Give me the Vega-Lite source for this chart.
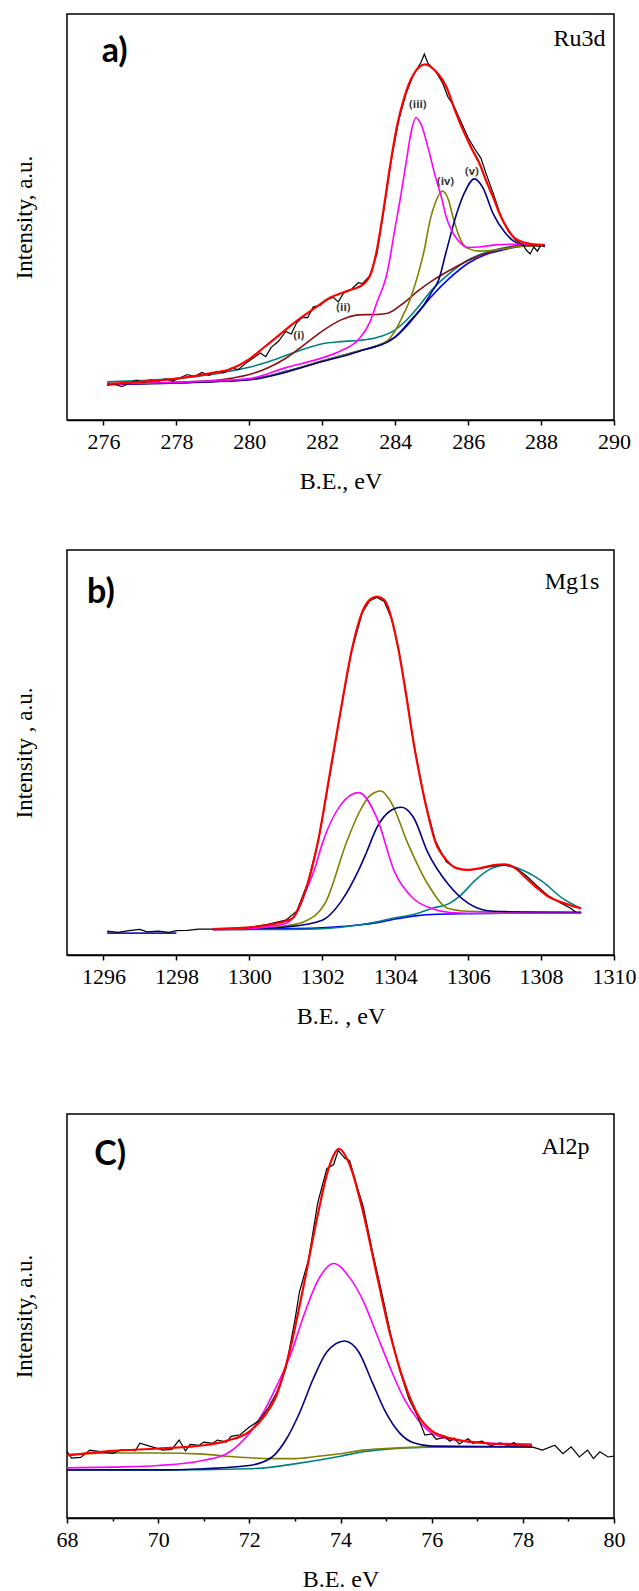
{
"$schema": "https://vega.github.io/schema/vega-lite/v6.json",
"padding": {"left": 12, "top": 13, "right": 0, "bottom": 0},
"background": "white",
"spacing": 55,
"vconcat": [
{
"width": 547, "height": 406,
"layer": [
{"data": {"name": "a"}, "transform": [{"filter": "datum.s !== 'Raw' && datum.s !== 'Fit'"}],
 "mark": {"type": "line", "strokeWidth": 1.6, "clip": true, "interpolate": "monotone"},
 "encoding": {
  "x": {"field": "x", "type": "quantitative", "scale": {"domain": [275, 290], "nice": false, "zero": false},
   "axis": {"values": [276,277,278,279,280,281,282,283,284,285,286,287,288,289,290], "format": "d",
    "labelExpr": "datum.value % 2 === 0 ? datum.label : ''",
    "tickSize": {"condition": {"test": "datum.value % 2 === 0", "value": 5}, "value": 3},
    "labelFontSize": 22, "labelPadding": 6, "labelOverlap": false, "labelFlush": false,
    "title": "B.E., eV", "titleFontSize": 24, "titlePadding": 17, "domainWidth": 1.5, "tickWidth": 1.5}},
  "y": {"field": "y", "type": "quantitative", "scale": {"domain": [0, 100], "nice": false},
   "axis": {"title": "Intensity, a.u.", "ticks": false, "labels": false, "domain": false, "titleFontSize": 23, "titlePadding": 31}},
  "color": {"field": "s", "type": "nominal", "legend": null,
   "scale": {"domain": ["bg","bg0","teal","brown","olive","navy","magenta"], "range": ["#0000ff","#2020c0","#008080","#8b1010","#808000","#000080","#ff00ff"]}}
 }},
{"data": {"name": "a"}, "transform": [{"filter": "datum.s === 'Raw'"}],
 "mark": {"type": "line", "color": "black", "strokeWidth": 1.2, "clip": true},
 "encoding": {"x": {"field": "x", "type": "quantitative"}, "y": {"field": "y", "type": "quantitative"}}},
{"data": {"name": "a"}, "transform": [{"filter": "datum.s === 'Fit'"}],
 "mark": {"type": "line", "color": "#ff0000", "strokeWidth": 2.2, "clip": true, "interpolate": "monotone"},
 "encoding": {"x": {"field": "x", "type": "quantitative"}, "y": {"field": "y", "type": "quantitative"}}},
{"data": {"name": "labels"}, "transform": [{"filter": "datum.p === 'a' && datum.k === 'big'"}],
 "mark": {"type": "text", "font": "Lato", "fontWeight": "bold", "fontSize": 34, "align": "left", "baseline": "middle", "color": "black"},
 "encoding": {"x": {"field": "x", "type": "quantitative"}, "y": {"field": "y", "type": "quantitative"}, "text": {"field": "t"}}},
{"data": {"name": "labels"}, "transform": [{"filter": "datum.p === 'a' && datum.k === 'el'"}],
 "mark": {"type": "text", "font": "Liberation Serif", "fontSize": 24, "align": "right", "baseline": "middle", "color": "black"},
 "encoding": {"x": {"field": "x", "type": "quantitative"}, "y": {"field": "y", "type": "quantitative"}, "text": {"field": "t"}}},
{"data": {"name": "labels"}, "transform": [{"filter": "datum.p === 'a' && datum.k === 'pk'"}],
 "mark": {"type": "text", "font": "Open Sans", "fontWeight": "bold", "fontSize": 11, "align": "center", "baseline": "middle", "color": "#333333"},
 "encoding": {"x": {"field": "x", "type": "quantitative"}, "y": {"field": "y", "type": "quantitative"}, "text": {"field": "t"}}}
]
},
{
"width": 547, "height": 405,
"layer": [
{"data": {"name": "b"}, "transform": [{"filter": "datum.s !== 'Raw' && datum.s !== 'Fit'"}],
 "mark": {"type": "line", "strokeWidth": 1.6, "clip": true, "interpolate": "monotone"},
 "encoding": {
  "x": {"field": "x", "type": "quantitative", "scale": {"domain": [1295, 1310], "nice": false, "zero": false},
   "axis": {"values": [1296,1297,1298,1299,1300,1301,1302,1303,1304,1305,1306,1307,1308,1309,1310], "format": "d",
    "labelExpr": "datum.value % 2 === 0 ? datum.label : ''",
    "tickSize": {"condition": {"test": "datum.value % 2 === 0", "value": 5}, "value": 3},
    "labelFontSize": 22, "labelPadding": 6, "labelOverlap": false, "labelFlush": false,
    "title": "B.E. , eV", "titleFontSize": 24, "titlePadding": 17, "domainWidth": 1.5, "tickWidth": 1.5}},
  "y": {"field": "y", "type": "quantitative", "scale": {"domain": [0, 100], "nice": false},
   "axis": {"title": "Intensity , a.u.", "ticks": false, "labels": false, "domain": false, "titleFontSize": 23, "titlePadding": 31}},
  "color": {"field": "s", "type": "nominal", "legend": null,
   "scale": {"domain": ["bg","bg0","teal","brown","olive","navy","magenta"], "range": ["#0000ff","#2020c0","#008080","#8b1010","#808000","#000080","#ff00ff"]}}
 }},
{"data": {"name": "b"}, "transform": [{"filter": "datum.s === 'Raw'"}],
 "mark": {"type": "line", "color": "black", "strokeWidth": 1.2, "clip": true},
 "encoding": {"x": {"field": "x", "type": "quantitative"}, "y": {"field": "y", "type": "quantitative"}}},
{"data": {"name": "b"}, "transform": [{"filter": "datum.s === 'Fit'"}],
 "mark": {"type": "line", "color": "#ff0000", "strokeWidth": 2.2, "clip": true, "interpolate": "monotone"},
 "encoding": {"x": {"field": "x", "type": "quantitative"}, "y": {"field": "y", "type": "quantitative"}}},
{"data": {"name": "labels"}, "transform": [{"filter": "datum.p === 'b' && datum.k === 'big'"}],
 "mark": {"type": "text", "font": "Lato", "fontWeight": "bold", "fontSize": 34, "align": "left", "baseline": "middle", "color": "black"},
 "encoding": {"x": {"field": "x", "type": "quantitative"}, "y": {"field": "y", "type": "quantitative"}, "text": {"field": "t"}}},
{"data": {"name": "labels"}, "transform": [{"filter": "datum.p === 'b' && datum.k === 'el'"}],
 "mark": {"type": "text", "font": "Liberation Serif", "fontSize": 24, "align": "right", "baseline": "middle", "color": "black"},
 "encoding": {"x": {"field": "x", "type": "quantitative"}, "y": {"field": "y", "type": "quantitative"}, "text": {"field": "t"}}}
]
},
{
"width": 547, "height": 404,
"title": {"text": " ", "fontSize": 10, "offset": 19},
"layer": [
{"data": {"name": "c"}, "transform": [{"filter": "datum.s !== 'Raw' && datum.s !== 'Fit'"}],
 "mark": {"type": "line", "strokeWidth": 1.6, "clip": true, "interpolate": "monotone"},
 "encoding": {
  "x": {"field": "x", "type": "quantitative", "scale": {"domain": [68, 80], "nice": false, "zero": false},
   "axis": {"values": [68,69,70,71,72,73,74,75,76,77,78,79,80], "format": "d",
    "labelExpr": "datum.value % 2 === 0 ? datum.label : ''",
    "tickSize": {"condition": {"test": "datum.value % 2 === 0", "value": 5}, "value": 3},
    "labelFontSize": 22, "labelPadding": 6, "labelOverlap": false, "labelFlush": false,
    "title": "B.E. eV", "titleFontSize": 24, "titlePadding": 17, "domainWidth": 1.5, "tickWidth": 1.5}},
  "y": {"field": "y", "type": "quantitative", "scale": {"domain": [0, 100], "nice": false},
   "axis": {"title": "Intensity, a.u.", "ticks": false, "labels": false, "domain": false, "titleFontSize": 23, "titlePadding": 31}},
  "color": {"field": "s", "type": "nominal", "legend": null,
   "scale": {"domain": ["bg","bg0","teal","brown","olive","navy","magenta"], "range": ["#0000ff","#2020c0","#008080","#8b1010","#808000","#000080","#ff00ff"]}}
 }},
{"data": {"name": "c"}, "transform": [{"filter": "datum.s === 'Raw'"}],
 "mark": {"type": "line", "color": "black", "strokeWidth": 1.2, "clip": true},
 "encoding": {"x": {"field": "x", "type": "quantitative"}, "y": {"field": "y", "type": "quantitative"}}},
{"data": {"name": "c"}, "transform": [{"filter": "datum.s === 'Fit'"}],
 "mark": {"type": "line", "color": "#ff0000", "strokeWidth": 2.2, "clip": true, "interpolate": "monotone"},
 "encoding": {"x": {"field": "x", "type": "quantitative"}, "y": {"field": "y", "type": "quantitative"}}},
{"data": {"name": "labels"}, "transform": [{"filter": "datum.p === 'c' && datum.k === 'big'"}],
 "mark": {"type": "text", "font": "Lato", "fontWeight": "bold", "fontSize": 34, "align": "left", "baseline": "middle", "color": "black"},
 "encoding": {"x": {"field": "x", "type": "quantitative"}, "y": {"field": "y", "type": "quantitative"}, "text": {"field": "t"}}},
{"data": {"name": "labels"}, "transform": [{"filter": "datum.p === 'c' && datum.k === 'el'"}],
 "mark": {"type": "text", "font": "Liberation Serif", "fontSize": 24, "align": "right", "baseline": "middle", "color": "black"},
 "encoding": {"x": {"field": "x", "type": "quantitative"}, "y": {"field": "y", "type": "quantitative"}, "text": {"field": "t"}}}
]
}
],
"datasets": {
"labels": [
{"p":"a","k":"big","t":"a)","x":275.95,"y":90.6},
{"p":"a","k":"el","t":"Ru3d","x":289.77,"y":93.8},
{"p":"a","k":"pk","t":"(i)","x":281.36,"y":20.7},
{"p":"a","k":"pk","t":"(ii)","x":282.58,"y":27.5},
{"p":"a","k":"pk","t":"(iii)","x":284.62,"y":77.6},
{"p":"a","k":"pk","t":"(iv)","x":285.38,"y":58.7},
{"p":"a","k":"pk","t":"(v)","x":286.1,"y":61.1},
{"p":"b","k":"big","t":"b)","x":1295.55,"y":89.3},
{"p":"b","k":"el","t":"Mg1s","x":1309.6,"y":92.2},
{"p":"c","k":"big","t":"C)","x":68.6,"y":89.9},
{"p":"c","k":"el","t":"Al2p","x":79.46,"y":91.8}
],
"a": [
{"s":"bg","x":276.1,"y":8.8},{"s":"bg","x":277,"y":9.0},{"s":"bg","x":278,"y":9.2},{"s":"bg","x":279,"y":9.5},{"s":"bg","x":280,"y":10.0},{"s":"bg","x":280.5,"y":10.8},{"s":"bg","x":281,"y":12.0},{"s":"bg","x":281.5,"y":13.2},{"s":"bg","x":282,"y":14.5},{"s":"bg","x":282.5,"y":15.8},{"s":"bg","x":283,"y":17.0},{"s":"bg","x":283.5,"y":18.3},{"s":"bg","x":284,"y":20.5},{"s":"bg","x":284.3,"y":23.0},{"s":"bg","x":284.6,"y":26.2},{"s":"bg","x":285,"y":30.5},{"s":"bg","x":285.5,"y":35.0},{"s":"bg","x":286,"y":38.6},{"s":"bg","x":286.5,"y":40.8},{"s":"bg","x":287,"y":42.0},{"s":"bg","x":287.5,"y":42.8},{"s":"bg","x":288.1,"y":43.0},
{"s":"teal","x":276.1,"y":9.4},{"s":"teal","x":277,"y":9.7},{"s":"teal","x":278,"y":10.2},{"s":"teal","x":279,"y":11.3},{"s":"teal","x":279.5,"y":12.1},{"s":"teal","x":280,"y":13.0},{"s":"teal","x":280.5,"y":14.3},{"s":"teal","x":281,"y":15.9},{"s":"teal","x":281.5,"y":17.5},{"s":"teal","x":282,"y":18.8},{"s":"teal","x":282.5,"y":19.3},{"s":"teal","x":283,"y":19.6},{"s":"teal","x":283.5,"y":20.3},{"s":"teal","x":284,"y":22.2},{"s":"teal","x":284.3,"y":24.5},{"s":"teal","x":284.6,"y":27.5},{"s":"teal","x":285,"y":32.0},{"s":"teal","x":285.5,"y":36.2},{"s":"teal","x":286,"y":39.4},{"s":"teal","x":286.5,"y":41.3},{"s":"teal","x":287,"y":42.4},{"s":"teal","x":287.5,"y":43.0},{"s":"teal","x":288.1,"y":43.1},
{"s":"brown","x":276.1,"y":8.9},{"s":"brown","x":277,"y":9.0},{"s":"brown","x":278,"y":9.3},{"s":"brown","x":279,"y":9.7},{"s":"brown","x":279.5,"y":10.3},{"s":"brown","x":280,"y":11.2},{"s":"brown","x":280.5,"y":12.8},{"s":"brown","x":281,"y":15.2},{"s":"brown","x":281.5,"y":18.5},{"s":"brown","x":282,"y":21.9},{"s":"brown","x":282.5,"y":24.6},{"s":"brown","x":283,"y":25.9},{"s":"brown","x":283.5,"y":26.0},{"s":"brown","x":283.8,"y":26.3},{"s":"brown","x":284.2,"y":28.6},{"s":"brown","x":284.6,"y":31.6},{"s":"brown","x":285,"y":34.2},{"s":"brown","x":285.5,"y":36.9},{"s":"brown","x":286,"y":39.3},{"s":"brown","x":286.5,"y":41.1},{"s":"brown","x":287,"y":42.3},{"s":"brown","x":287.5,"y":42.9},{"s":"brown","x":288.1,"y":43.0},
{"s":"olive","x":276.1,"y":8.8},{"s":"olive","x":278,"y":9.2},{"s":"olive","x":280,"y":10.0},{"s":"olive","x":282,"y":14.5},{"s":"olive","x":283,"y":17.0},{"s":"olive","x":283.5,"y":18.3},{"s":"olive","x":283.8,"y":19.6},{"s":"olive","x":284.0,"y":22.0},{"s":"olive","x":284.2,"y":25.5},{"s":"olive","x":284.4,"y":29.5},{"s":"olive","x":284.6,"y":35.0},{"s":"olive","x":284.8,"y":42.0},{"s":"olive","x":284.95,"y":49.0},{"s":"olive","x":285.1,"y":53.5},{"s":"olive","x":285.29,"y":56.4},{"s":"olive","x":285.45,"y":54.5},{"s":"olive","x":285.6,"y":49.5},{"s":"olive","x":285.75,"y":45.3},{"s":"olive","x":285.96,"y":42.4},{"s":"olive","x":286.3,"y":41.6},{"s":"olive","x":286.7,"y":41.8},{"s":"olive","x":287,"y":42.2},{"s":"olive","x":287.5,"y":42.8},{"s":"olive","x":288.1,"y":43.0},
{"s":"navy","x":276.1,"y":8.7},{"s":"navy","x":278,"y":9.1},{"s":"navy","x":280,"y":9.9},{"s":"navy","x":282,"y":14.4},{"s":"navy","x":283,"y":16.9},{"s":"navy","x":284,"y":20.4},{"s":"navy","x":284.4,"y":24.3},{"s":"navy","x":284.8,"y":28.5},{"s":"navy","x":285.0,"y":31.5},{"s":"navy","x":285.18,"y":34.2},{"s":"navy","x":285.4,"y":41.5},{"s":"navy","x":285.68,"y":50.7},{"s":"navy","x":285.9,"y":56.0},{"s":"navy","x":286.17,"y":59.4},{"s":"navy","x":286.4,"y":57.3},{"s":"navy","x":286.69,"y":50.7},{"s":"navy","x":287.0,"y":46.3},{"s":"navy","x":287.24,"y":44.1},{"s":"navy","x":287.5,"y":43.2},{"s":"navy","x":288.1,"y":43.0},
{"s":"magenta","x":276.1,"y":8.8},{"s":"magenta","x":278,"y":9.3},{"s":"magenta","x":280,"y":10.2},{"s":"magenta","x":281,"y":12.9},{"s":"magenta","x":282,"y":15.3},{"s":"magenta","x":282.5,"y":17.0},{"s":"magenta","x":283.0,"y":19.9},{"s":"magenta","x":283.3,"y":24.0},{"s":"magenta","x":283.5,"y":29.0},{"s":"magenta","x":283.77,"y":35.9},{"s":"magenta","x":284.0,"y":47.5},{"s":"magenta","x":284.13,"y":54.0},{"s":"magenta","x":284.3,"y":63.5},{"s":"magenta","x":284.45,"y":71.5},{"s":"magenta","x":284.57,"y":74.5},{"s":"magenta","x":284.7,"y":73.0},{"s":"magenta","x":284.95,"y":65.4},{"s":"magenta","x":285.1,"y":60.0},{"s":"magenta","x":285.27,"y":54.8},{"s":"magenta","x":285.4,"y":50.0},{"s":"magenta","x":285.55,"y":46.6},{"s":"magenta","x":285.7,"y":44.5},{"s":"magenta","x":285.82,"y":43.3},{"s":"magenta","x":286.0,"y":42.5},{"s":"magenta","x":286.3,"y":42.6},{"s":"magenta","x":286.8,"y":43.2},{"s":"magenta","x":287.3,"y":43.3},{"s":"magenta","x":288.1,"y":43.2},
{"s":"Raw","x":276.1,"y":8.6},{"s":"Raw","x":276.3,"y":8.9},{"s":"Raw","x":276.5,"y":8.2},{"s":"Raw","x":276.7,"y":9.0},{"s":"Raw","x":276.9,"y":9.8},{"s":"Raw","x":277.1,"y":9.2},{"s":"Raw","x":277.3,"y":9.9},{"s":"Raw","x":277.5,"y":9.5},{"s":"Raw","x":277.7,"y":10.1},{"s":"Raw","x":277.9,"y":9.6},{"s":"Raw","x":278.1,"y":10.4},{"s":"Raw","x":278.3,"y":11.2},{"s":"Raw","x":278.5,"y":10.7},{"s":"Raw","x":278.7,"y":11.7},{"s":"Raw","x":278.9,"y":11.0},{"s":"Raw","x":279.1,"y":12.0},{"s":"Raw","x":279.3,"y":11.6},{"s":"Raw","x":279.5,"y":12.8},{"s":"Raw","x":279.7,"y":12.4},{"s":"Raw","x":279.9,"y":14.0},{"s":"Raw","x":280.1,"y":15.2},{"s":"Raw","x":280.3,"y":16.5},{"s":"Raw","x":280.45,"y":15.6},{"s":"Raw","x":280.6,"y":17.9},{"s":"Raw","x":280.8,"y":19.4},{"s":"Raw","x":281.0,"y":21.8},{"s":"Raw","x":281.15,"y":21.2},{"s":"Raw","x":281.3,"y":24.0},{"s":"Raw","x":281.45,"y":25.3},{"s":"Raw","x":281.6,"y":25.2},{"s":"Raw","x":281.75,"y":27.8},{"s":"Raw","x":281.95,"y":28.3},{"s":"Raw","x":282.1,"y":29.6},{"s":"Raw","x":282.3,"y":30.2},{"s":"Raw","x":282.44,"y":29.1},{"s":"Raw","x":282.6,"y":31.5},{"s":"Raw","x":282.8,"y":32.2},{"s":"Raw","x":282.99,"y":33.8},{"s":"Raw","x":283.1,"y":33.6},{"s":"Raw","x":283.3,"y":35.5},{"s":"Raw","x":283.5,"y":41.0},{"s":"Raw","x":283.7,"y":52.5},{"s":"Raw","x":283.9,"y":64.5},{"s":"Raw","x":284.1,"y":74.0},{"s":"Raw","x":284.3,"y":80.5},{"s":"Raw","x":284.5,"y":85.0},{"s":"Raw","x":284.7,"y":88.0},{"s":"Raw","x":284.8,"y":90.1},{"s":"Raw","x":284.9,"y":87.8},{"s":"Raw","x":285.1,"y":86.0},{"s":"Raw","x":285.3,"y":83.0},{"s":"Raw","x":285.45,"y":79.5},{"s":"Raw","x":285.6,"y":77.5},{"s":"Raw","x":285.8,"y":73.5},{"s":"Raw","x":286.0,"y":69.5},{"s":"Raw","x":286.2,"y":66.5},{"s":"Raw","x":286.35,"y":64.5},{"s":"Raw","x":286.5,"y":60.5},{"s":"Raw","x":286.7,"y":55.5},{"s":"Raw","x":286.9,"y":50.0},{"s":"Raw","x":287.1,"y":46.5},{"s":"Raw","x":287.3,"y":44.3},{"s":"Raw","x":287.5,"y":43.2},{"s":"Raw","x":287.6,"y":41.8},{"s":"Raw","x":287.7,"y":40.9},{"s":"Raw","x":287.8,"y":42.6},{"s":"Raw","x":287.9,"y":41.6},{"s":"Raw","x":288.0,"y":43.2},{"s":"Raw","x":288.1,"y":42.6},
{"s":"Fit","x":276.1,"y":8.9},{"s":"Fit","x":277,"y":9.4},{"s":"Fit","x":278,"y":10.2},{"s":"Fit","x":279,"y":11.6},{"s":"Fit","x":279.47,"y":12.5},{"s":"Fit","x":280,"y":15.0},{"s":"Fit","x":280.39,"y":17.8},{"s":"Fit","x":280.8,"y":20.8},{"s":"Fit","x":281.3,"y":24.4},{"s":"Fit","x":281.8,"y":27.6},{"s":"Fit","x":282.21,"y":30.1},{"s":"Fit","x":282.7,"y":31.8},{"s":"Fit","x":283.12,"y":33.4},{"s":"Fit","x":283.35,"y":36.5},{"s":"Fit","x":283.49,"y":41.6},{"s":"Fit","x":283.65,"y":50.0},{"s":"Fit","x":283.85,"y":62.0},{"s":"Fit","x":284.04,"y":72.0},{"s":"Fit","x":284.25,"y":79.5},{"s":"Fit","x":284.5,"y":85.1},{"s":"Fit","x":284.82,"y":87.6},{"s":"Fit","x":285.1,"y":86.0},{"s":"Fit","x":285.41,"y":81.9},{"s":"Fit","x":285.65,"y":76.0},{"s":"Fit","x":285.87,"y":71.2},{"s":"Fit","x":286.1,"y":66.8},{"s":"Fit","x":286.32,"y":63.0},{"s":"Fit","x":286.5,"y":58.8},{"s":"Fit","x":286.69,"y":54.8},{"s":"Fit","x":286.88,"y":50.5},{"s":"Fit","x":287.06,"y":47.4},{"s":"Fit","x":287.25,"y":45.0},{"s":"Fit","x":287.42,"y":44.1},{"s":"Fit","x":287.7,"y":43.4},{"s":"Fit","x":288.06,"y":43.1}
],
"b": [
{"s":"bg0","x":1296.1,"y":5.4},{"s":"bg0","x":1298.0,"y":5.4},
{"s":"bg","x":1299,"y":6.3},{"s":"bg","x":1300,"y":6.4},{"s":"bg","x":1301,"y":6.5},{"s":"bg","x":1302,"y":6.7},{"s":"bg","x":1302.5,"y":7.0},{"s":"bg","x":1303,"y":7.4},{"s":"bg","x":1303.5,"y":8.0},{"s":"bg","x":1304,"y":8.9},{"s":"bg","x":1304.5,"y":9.6},{"s":"bg","x":1305,"y":10.0},{"s":"bg","x":1306,"y":10.2},{"s":"bg","x":1307,"y":10.3},{"s":"bg","x":1309.1,"y":10.4},
{"s":"teal","x":1299,"y":6.3},{"s":"teal","x":1300,"y":6.3},{"s":"teal","x":1301,"y":6.3},{"s":"teal","x":1302,"y":6.5},{"s":"teal","x":1303,"y":7.4},{"s":"teal","x":1303.5,"y":8.2},{"s":"teal","x":1304,"y":9.2},{"s":"teal","x":1304.5,"y":10.0},{"s":"teal","x":1305,"y":11.5},{"s":"teal","x":1305.5,"y":12.8},{"s":"teal","x":1305.8,"y":14.8},{"s":"teal","x":1306.2,"y":18.5},{"s":"teal","x":1306.6,"y":21.2},{"s":"teal","x":1307.03,"y":22.2},{"s":"teal","x":1307.5,"y":20.9},{"s":"teal","x":1308.04,"y":18.1},{"s":"teal","x":1308.6,"y":13.9},{"s":"teal","x":1309.1,"y":11.5},
{"s":"olive","x":1299,"y":6.4},{"s":"olive","x":1300,"y":6.4},{"s":"olive","x":1301,"y":7.2},{"s":"olive","x":1301.5,"y":8.2},{"s":"olive","x":1302.1,"y":13.2},{"s":"olive","x":1302.66,"y":27.7},{"s":"olive","x":1303.0,"y":35.0},{"s":"olive","x":1303.3,"y":39.3},{"s":"olive","x":1303.61,"y":40.5},{"s":"olive","x":1303.9,"y":37.5},{"s":"olive","x":1304.34,"y":27.7},{"s":"olive","x":1304.9,"y":17.4},{"s":"olive","x":1305.46,"y":11.5},{"s":"olive","x":1306,"y":10.8},{"s":"olive","x":1307,"y":10.6},{"s":"olive","x":1309.1,"y":10.6},
{"s":"navy","x":1299,"y":6.3},{"s":"navy","x":1300,"y":6.4},{"s":"navy","x":1301,"y":6.9},{"s":"navy","x":1302,"y":8.6},{"s":"navy","x":1302.5,"y":13.0},{"s":"navy","x":1303.0,"y":21.0},{"s":"navy","x":1303.22,"y":25.5},{"s":"navy","x":1303.5,"y":31.5},{"s":"navy","x":1303.85,"y":35.5},{"s":"navy","x":1304.17,"y":36.5},{"s":"navy","x":1304.5,"y":34.0},{"s":"navy","x":1304.9,"y":25.2},{"s":"navy","x":1305.46,"y":17.4},{"s":"navy","x":1306.0,"y":12.8},{"s":"navy","x":1306.5,"y":11.0},{"s":"navy","x":1307,"y":10.7},{"s":"navy","x":1309.1,"y":10.5},
{"s":"magenta","x":1299,"y":6.3},{"s":"magenta","x":1300,"y":6.5},{"s":"magenta","x":1300.5,"y":7.0},{"s":"magenta","x":1301,"y":7.8},{"s":"magenta","x":1301.3,"y":10.5},{"s":"magenta","x":1301.54,"y":15.6},{"s":"magenta","x":1301.8,"y":21.5},{"s":"magenta","x":1302,"y":27.5},{"s":"magenta","x":1302.5,"y":37.0},{"s":"magenta","x":1303.0,"y":40.1},{"s":"magenta","x":1303.5,"y":33.8},{"s":"magenta","x":1303.98,"y":20.6},{"s":"magenta","x":1304.49,"y":14.0},{"s":"magenta","x":1305.0,"y":11.5},{"s":"magenta","x":1305.5,"y":10.5},{"s":"magenta","x":1306,"y":10.3},{"s":"magenta","x":1309.1,"y":10.3},
{"s":"Raw","x":1296.1,"y":5.9},{"s":"Raw","x":1296.4,"y":5.6},{"s":"Raw","x":1296.7,"y":6.0},{"s":"Raw","x":1297.0,"y":6.3},{"s":"Raw","x":1297.2,"y":5.7},{"s":"Raw","x":1297.5,"y":5.9},{"s":"Raw","x":1297.8,"y":5.6},{"s":"Raw","x":1298.0,"y":6.0},{"s":"Raw","x":1298.3,"y":6.1},{"s":"Raw","x":1298.6,"y":6.4},{"s":"Raw","x":1299.0,"y":6.4},{"s":"Raw","x":1299.5,"y":6.6},{"s":"Raw","x":1300.0,"y":6.8},{"s":"Raw","x":1300.5,"y":7.6},{"s":"Raw","x":1301.0,"y":8.6},{"s":"Raw","x":1301.3,"y":10.8},{"s":"Raw","x":1301.6,"y":17.8},{"s":"Raw","x":1301.9,"y":28.5},{"s":"Raw","x":1302.2,"y":44.0},{"s":"Raw","x":1302.5,"y":60.0},{"s":"Raw","x":1302.8,"y":75.0},{"s":"Raw","x":1303.1,"y":84.6},{"s":"Raw","x":1303.3,"y":87.5},{"s":"Raw","x":1303.5,"y":88.3},{"s":"Raw","x":1303.7,"y":87.3},{"s":"Raw","x":1303.9,"y":83.0},{"s":"Raw","x":1304.1,"y":75.2},{"s":"Raw","x":1304.3,"y":64.5},{"s":"Raw","x":1304.5,"y":52.5},{"s":"Raw","x":1304.8,"y":38.5},{"s":"Raw","x":1305.1,"y":28.2},{"s":"Raw","x":1305.4,"y":23.0},{"s":"Raw","x":1305.6,"y":21.8},{"s":"Raw","x":1305.8,"y":21.2},{"s":"Raw","x":1306.0,"y":21.0},{"s":"Raw","x":1306.3,"y":21.3},{"s":"Raw","x":1306.7,"y":22.0},{"s":"Raw","x":1307.0,"y":22.2},{"s":"Raw","x":1307.3,"y":21.6},{"s":"Raw","x":1307.6,"y":19.5},{"s":"Raw","x":1307.9,"y":17.0},{"s":"Raw","x":1308.2,"y":14.6},{"s":"Raw","x":1308.5,"y":13.0},{"s":"Raw","x":1308.8,"y":11.6},{"s":"Raw","x":1308.95,"y":10.6},
{"s":"Fit","x":1299,"y":6.4},{"s":"Fit","x":1300,"y":6.8},{"s":"Fit","x":1300.5,"y":7.4},{"s":"Fit","x":1301,"y":8.4},{"s":"Fit","x":1301.2,"y":9.2},{"s":"Fit","x":1301.4,"y":12.5},{"s":"Fit","x":1301.66,"y":19.5},{"s":"Fit","x":1301.9,"y":28.8},{"s":"Fit","x":1302.2,"y":44.4},{"s":"Fit","x":1302.5,"y":60.1},{"s":"Fit","x":1302.8,"y":74.9},{"s":"Fit","x":1303.1,"y":84.8},{"s":"Fit","x":1303.3,"y":87.7},{"s":"Fit","x":1303.5,"y":88.5},{"s":"Fit","x":1303.7,"y":87.7},{"s":"Fit","x":1303.9,"y":83.1},{"s":"Fit","x":1304.1,"y":74.9},{"s":"Fit","x":1304.3,"y":64.2},{"s":"Fit","x":1304.5,"y":52.7},{"s":"Fit","x":1304.8,"y":38.7},{"s":"Fit","x":1305.1,"y":28.0},{"s":"Fit","x":1305.4,"y":23.5},{"s":"Fit","x":1305.7,"y":21.4},{"s":"Fit","x":1306.0,"y":21.0},{"s":"Fit","x":1306.3,"y":21.4},{"s":"Fit","x":1306.7,"y":22.2},{"s":"Fit","x":1307.0,"y":22.4},{"s":"Fit","x":1307.3,"y":21.4},{"s":"Fit","x":1307.6,"y":18.9},{"s":"Fit","x":1307.9,"y":16.5},{"s":"Fit","x":1308.2,"y":14.4},{"s":"Fit","x":1308.5,"y":13.2},{"s":"Fit","x":1308.8,"y":12.3},{"s":"Fit","x":1309.1,"y":11.5}
],
"c": [
{"s":"teal","x":68,"y":11.9},{"s":"teal","x":70,"y":11.9},{"s":"teal","x":72,"y":12.2},{"s":"teal","x":72.5,"y":12.6},{"s":"teal","x":73,"y":13.4},{"s":"teal","x":73.5,"y":14.3},{"s":"teal","x":74,"y":15.3},{"s":"teal","x":74.5,"y":16.4},{"s":"teal","x":75,"y":17.0},{"s":"teal","x":76,"y":17.5},{"s":"teal","x":78.2,"y":17.6},
{"s":"olive","x":68,"y":15.7},{"s":"olive","x":69,"y":16.1},{"s":"olive","x":70,"y":16.1},{"s":"olive","x":71,"y":15.8},{"s":"olive","x":71.5,"y":15.3},{"s":"olive","x":72,"y":14.9},{"s":"olive","x":72.5,"y":14.7},{"s":"olive","x":73,"y":14.7},{"s":"olive","x":73.5,"y":15.3},{"s":"olive","x":74,"y":15.9},{"s":"olive","x":74.5,"y":16.8},{"s":"olive","x":75,"y":17.2},{"s":"olive","x":76,"y":17.6},{"s":"olive","x":78.2,"y":17.6},
{"s":"navy","x":68,"y":11.9},{"s":"navy","x":70,"y":11.9},{"s":"navy","x":71,"y":12.2},{"s":"navy","x":72,"y":13.0},{"s":"navy","x":72.5,"y":15.1},{"s":"navy","x":72.8,"y":19.3},{"s":"navy","x":73.1,"y":26.0},{"s":"navy","x":73.4,"y":34.4},{"s":"navy","x":73.7,"y":41.1},{"s":"navy","x":74.09,"y":43.8},{"s":"navy","x":74.4,"y":41.1},{"s":"navy","x":74.7,"y":33.5},{"s":"navy","x":75.0,"y":26.0},{"s":"navy","x":75.3,"y":21.0},{"s":"navy","x":75.6,"y":18.6},{"s":"navy","x":76.0,"y":17.8},{"s":"navy","x":78.2,"y":17.6},
{"s":"magenta","x":68,"y":12.4},{"s":"magenta","x":69,"y":12.6},{"s":"magenta","x":70,"y":13.0},{"s":"magenta","x":71,"y":14.3},{"s":"magenta","x":71.5,"y":15.9},{"s":"magenta","x":72,"y":21.0},{"s":"magenta","x":72.3,"y":26.0},{"s":"magenta","x":72.6,"y":32.7},{"s":"magenta","x":72.9,"y":40.3},{"s":"magenta","x":73.2,"y":50.3},{"s":"magenta","x":73.5,"y":58.7},{"s":"magenta","x":73.85,"y":63.0},{"s":"magenta","x":74.2,"y":59.5},{"s":"magenta","x":74.5,"y":53.7},{"s":"magenta","x":74.8,"y":45.3},{"s":"magenta","x":75.1,"y":36.9},{"s":"magenta","x":75.4,"y":29.4},{"s":"magenta","x":75.7,"y":24.3},{"s":"magenta","x":76.0,"y":21.0},{"s":"magenta","x":76.5,"y":19.3},{"s":"magenta","x":77.0,"y":18.7},{"s":"magenta","x":78.2,"y":18.3},
{"s":"Raw","x":68.0,"y":16.5},{"s":"Raw","x":68.1,"y":14.8},{"s":"Raw","x":68.3,"y":15.0},{"s":"Raw","x":68.5,"y":16.8},{"s":"Raw","x":68.8,"y":16.3},{"s":"Raw","x":69.0,"y":16.0},{"s":"Raw","x":69.2,"y":16.9},{"s":"Raw","x":69.5,"y":16.7},{"s":"Raw","x":69.6,"y":18.5},{"s":"Raw","x":69.9,"y":17.5},{"s":"Raw","x":70.1,"y":16.8},{"s":"Raw","x":70.3,"y":17.0},{"s":"Raw","x":70.46,"y":19.3},{"s":"Raw","x":70.6,"y":16.6},{"s":"Raw","x":70.7,"y":18.2},{"s":"Raw","x":70.9,"y":18.0},{"s":"Raw","x":71.0,"y":18.8},{"s":"Raw","x":71.2,"y":18.5},{"s":"Raw","x":71.3,"y":19.3},{"s":"Raw","x":71.5,"y":18.8},{"s":"Raw","x":71.6,"y":20.2},{"s":"Raw","x":71.8,"y":20.6},{"s":"Raw","x":72.0,"y":22.5},{"s":"Raw","x":72.2,"y":24.0},{"s":"Raw","x":72.4,"y":27.0},{"s":"Raw","x":72.6,"y":31.0},{"s":"Raw","x":72.8,"y":37.0},{"s":"Raw","x":73.0,"y":49.0},{"s":"Raw","x":73.1,"y":56.0},{"s":"Raw","x":73.3,"y":64.0},{"s":"Raw","x":73.5,"y":78.0},{"s":"Raw","x":73.7,"y":86.5},{"s":"Raw","x":73.85,"y":87.5},{"s":"Raw","x":73.95,"y":91.0},{"s":"Raw","x":74.1,"y":89.0},{"s":"Raw","x":74.2,"y":88.5},{"s":"Raw","x":74.35,"y":82.5},{"s":"Raw","x":74.5,"y":77.0},{"s":"Raw","x":74.7,"y":66.0},{"s":"Raw","x":74.9,"y":56.0},{"s":"Raw","x":75.1,"y":45.5},{"s":"Raw","x":75.3,"y":36.5},{"s":"Raw","x":75.5,"y":29.5},{"s":"Raw","x":75.7,"y":25.0},{"s":"Raw","x":75.85,"y":20.5},{"s":"Raw","x":76.0,"y":20.8},{"s":"Raw","x":76.1,"y":19.5},{"s":"Raw","x":76.3,"y":20.0},{"s":"Raw","x":76.4,"y":19.0},{"s":"Raw","x":76.5,"y":19.8},{"s":"Raw","x":76.6,"y":18.3},{"s":"Raw","x":76.8,"y":19.6},{"s":"Raw","x":76.9,"y":18.5},{"s":"Raw","x":77.1,"y":19.0},{"s":"Raw","x":77.3,"y":17.9},{"s":"Raw","x":77.5,"y":18.6},{"s":"Raw","x":77.7,"y":17.8},{"s":"Raw","x":77.8,"y":18.7},{"s":"Raw","x":77.9,"y":18.0},{"s":"Raw","x":78.2,"y":17.6},{"s":"Raw","x":78.43,"y":16.8},{"s":"Raw","x":78.7,"y":18.0},{"s":"Raw","x":78.88,"y":15.9},{"s":"Raw","x":79.06,"y":17.6},{"s":"Raw","x":79.24,"y":15.1},{"s":"Raw","x":79.42,"y":16.8},{"s":"Raw","x":79.55,"y":14.7},{"s":"Raw","x":79.69,"y":16.4},{"s":"Raw","x":79.87,"y":15.1},{"s":"Raw","x":80.0,"y":15.3},
{"s":"Fit","x":68.0,"y":15.5},{"s":"Fit","x":69.0,"y":16.6},{"s":"Fit","x":70.0,"y":17.2},{"s":"Fit","x":71.0,"y":18.0},{"s":"Fit","x":71.5,"y":19.1},{"s":"Fit","x":72.0,"y":21.4},{"s":"Fit","x":72.3,"y":24.8},{"s":"Fit","x":72.6,"y":30.5},{"s":"Fit","x":72.9,"y":42.0},{"s":"Fit","x":73.2,"y":58.0},{"s":"Fit","x":73.5,"y":75.0},{"s":"Fit","x":73.7,"y":85.0},{"s":"Fit","x":73.85,"y":89.8},{"s":"Fit","x":73.96,"y":91.4},{"s":"Fit","x":74.2,"y":87.5},{"s":"Fit","x":74.5,"y":75.5},{"s":"Fit","x":74.8,"y":60.0},{"s":"Fit","x":75.1,"y":45.0},{"s":"Fit","x":75.4,"y":33.5},{"s":"Fit","x":75.7,"y":25.5},{"s":"Fit","x":76.0,"y":21.6},{"s":"Fit","x":76.3,"y":20.1},{"s":"Fit","x":76.7,"y":19.1},{"s":"Fit","x":77.2,"y":18.5},{"s":"Fit","x":78.2,"y":18.0}
]
},
"config": {
 "view": {"stroke": "black", "strokeWidth": 1.5},
 "axis": {"grid": false, "domainColor": "black", "tickColor": "black", "labelColor": "black", "titleColor": "black",
  "labelFont": "Liberation Serif", "titleFont": "Liberation Serif", "titleFontWeight": "normal"}
}
}
